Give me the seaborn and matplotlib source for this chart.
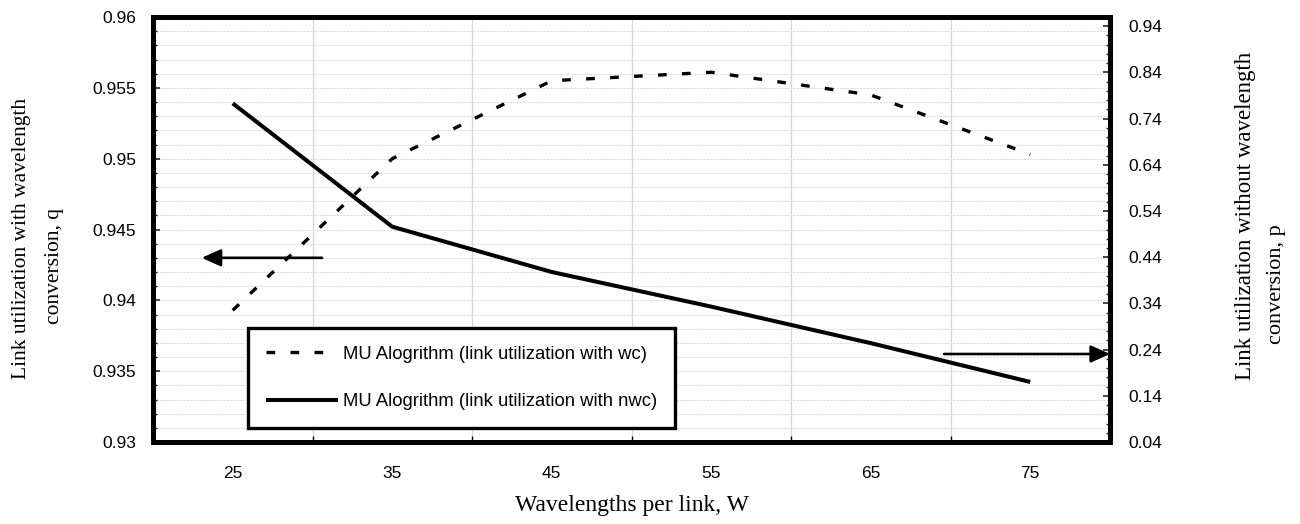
import matplotlib
matplotlib.use("Agg")
import matplotlib.pyplot as plt
import pandas as pd
import seaborn as sns
from matplotlib.ticker import MultipleLocator, FixedLocator, NullFormatter

# Link utilization versus wavelengths per link
wavelengths = [25, 35, 45, 55, 65, 75]
util_wc = [0.9393, 0.9500, 0.9555, 0.9561, 0.9545, 0.9503]   # left axis, q
util_nwc = [0.773, 0.506, 0.408, 0.333, 0.254, 0.170]        # right axis, p
label_wc = "MU Alogrithm (link utilization with wc)"
label_nwc = "MU Alogrithm (link utilization with nwc)"
left_title = ["Link utilization with wavelength", "conversion, q"]
right_title = ["Link utilization without wavelength", "conversion, p"]
x_title = "Wavelengths per link, W"

sns.set_theme(style="white")
plt.rcParams["font.family"] = ["Liberation Sans", "DejaVu Sans"]

W_PX, H_PX = 1300, 524
fig = plt.figure(figsize=(W_PX / 100, H_PX / 100), dpi=100)
ax = fig.add_axes([153 / W_PX, 1 - 442 / H_PX, (1110 - 153) / W_PX, (442 - 17) / H_PX])
ax2 = ax.twinx()

df = pd.DataFrame({"W": wavelengths, "wc": util_wc, "nwc": util_nwc})

sns.lineplot(data=df, x="W", y="wc", ax=ax, color="black", linewidth=2.4,
             dashes=False, legend=False)
ax.lines[-1].set_linestyle((0, (2.6, 4.6)))
ax.lines[-1].set_label(label_wc)
sns.lineplot(data=df, x="W", y="nwc", ax=ax2, color="black", linewidth=2.9,
             legend=False)
ax2.lines[-1].set_label(label_nwc)
ax2.lines[-1].set_solid_capstyle("butt")

# axes ranges and ticks
ax.set_xlim(20, 80)
ax.set_ylim(0.93, 0.96)
ax2.set_ylim(0.04, 0.96)

ax.xaxis.set_major_locator(FixedLocator([30, 40, 50, 60, 70]))
ax.xaxis.set_major_formatter(NullFormatter())
ax.set_xticks(wavelengths, minor=True)
ax.set_xticklabels([str(w) for w in wavelengths], minor=True)
ax.tick_params(axis="x", which="major", direction="in", length=4, width=1, color="black",
               bottom=True)
ax.tick_params(axis="x", which="minor", length=0, pad=17, labelsize=12.5, labelcolor="black")

ax.yaxis.set_major_locator(MultipleLocator(0.005))
ax.yaxis.set_minor_locator(MultipleLocator(0.001))
ax.yaxis.set_major_formatter(plt.FuncFormatter(lambda v, p: f"{v:g}"))
ax.tick_params(axis="y", which="major", direction="in", length=5, width=1.2, left=True,
               labelsize=12.5, pad=12, labelcolor="black")
ax.tick_params(axis="y", which="minor", direction="in", length=3, width=1, left=True)

ax2.set_yticks([0.04 + 0.1 * i for i in range(10)])
ax2.yaxis.set_major_formatter(plt.FuncFormatter(lambda v, p: f"{v:.2f}"))
ax2.yaxis.set_minor_locator(MultipleLocator(0.02))
ax2.tick_params(axis="y", which="major", direction="in", length=5, width=1.2, right=True,
                labelsize=12.5, pad=13, labelcolor="black")
ax2.tick_params(axis="y", which="minor", direction="in", length=3, width=1, right=True)

ax.set_xlabel("")
ax.set_ylabel("")
ax2.set_ylabel("")

# gridlines
ax.grid(which="both", axis="y", color="#dcdcdc", linewidth=0.8, linestyle=(0, (2, 1)))
ax.grid(which="major", axis="x", color="#d6d6d6", linewidth=0.9, linestyle="-")
ax.grid(which="minor", axis="x", visible=False)
ax.set_axisbelow(True)

# heavy frame
for a in (ax, ax2):
    for s in a.spines.values():
        s.set_linewidth(3.6)
        s.set_color("black")
        s.set_capstyle("projecting")
        s.set_joinstyle("round")

# direction arrows
arrow_left_tail, arrow_left_tip, arrow_left_y = 30.6, 23.05, 0.943
arrow_right_tail, arrow_right_tip, arrow_right_y = 69.6, 80.0, 0.2305
arrow_style = dict(arrowstyle="-|>,head_length=0.58,head_width=0.26", color="black",
                   lw=1.9, shrinkA=0, shrinkB=0, mutation_scale=20)
ax.annotate("", xy=(arrow_left_tip, arrow_left_y), xytext=(arrow_left_tail, arrow_left_y),
            arrowprops=arrow_style, zorder=4)
ax2.annotate("", xy=(arrow_right_tip, arrow_right_y), xytext=(arrow_right_tail, arrow_right_y),
             arrowprops=arrow_style, zorder=4, annotation_clip=False)

# legend
handles = [h for h in ax.lines if h.get_label() == label_wc] + \
          [h for h in ax2.lines if h.get_label() == label_nwc]
leg = ax2.legend(handles=handles, labels=[label_wc, label_nwc],
                 loc="upper left", bbox_to_anchor=(248 / W_PX, 1 - 328 / H_PX),
                 bbox_transform=fig.transFigure, borderaxespad=0, frameon=True,
                 fancybox=False, framealpha=1, edgecolor="black", facecolor="white",
                 fontsize=13.3, handlelength=3.9, handletextpad=0.3, borderpad=0.95,
                 labelspacing=1.65)
leg.get_frame().set_linewidth(2.4)
for t in leg.get_texts():
    t.set_color("black")

# axis titles
serif = ["Liberation Serif", "DejaVu Serif"]
fig.text(631.5 / W_PX, 1 - 505 / H_PX, x_title, ha="center", va="center",
         fontsize=17, family=serif, color="black")
fig.text(22 / W_PX, 1 - 238.5 / H_PX, left_title[0], rotation=90, ha="center",
         va="center", fontsize=15.5, family=serif, color="black")
fig.text(54 / W_PX, 1 - 266.5 / H_PX, left_title[1], rotation=90, ha="center",
         va="center", fontsize=15.5, family=serif, color="black")
fig.text(1246 / W_PX, 1 - 215.5 / H_PX, right_title[0], rotation=90, ha="center",
         va="center", fontsize=16.5, family=serif, color="black")
fig.text(1277 / W_PX, 1 - 284 / H_PX, right_title[1], rotation=90, ha="center",
         va="center", fontsize=16, family=serif, color="black")

fig.savefig("out.png", dpi=100, facecolor="white")
